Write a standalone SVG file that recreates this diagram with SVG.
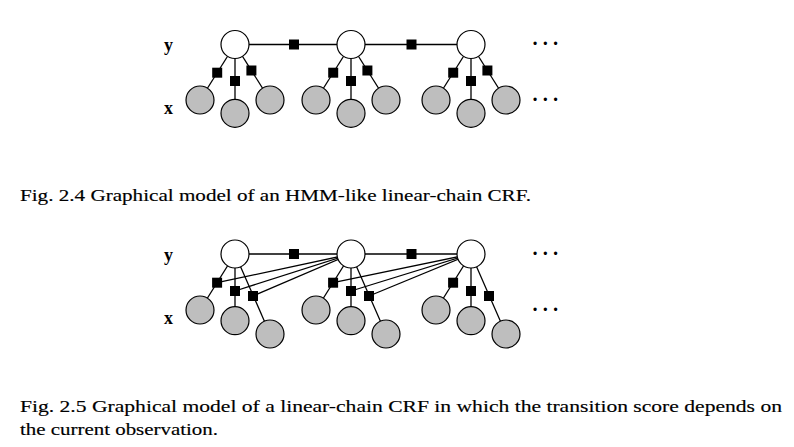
<svg xmlns="http://www.w3.org/2000/svg" width="794" height="447" viewBox="0 0 794 447">
<defs>
<style>
.ln{stroke:#000;stroke-width:1.3;fill:none}
.yn{fill:#fff;stroke:#000;stroke-width:1.2}
.xn{fill:#bebebe;stroke:#000;stroke-width:1.2}
.fac{fill:#000}
.lab{font-family:"Liberation Serif",serif;font-weight:bold;font-size:18px;fill:#000}
.dots{font-family:"Liberation Serif",serif;font-weight:bold;font-size:20px;fill:#000}
.cap{font-family:"Liberation Serif",serif;font-size:16px;fill:#000;stroke:#000;stroke-width:0.15}
</style>
<rect id="f" width="10" height="10" x="-5" y="-5"/>
</defs>
<rect width="794" height="447" fill="#fff"/>

<!-- Figure 2.4 -->
<g id="connectors-top">
<line class="ln" x1="235" y1="44.5" x2="471" y2="44.5"/>
<line class="ln" x1="235" y1="44.5" x2="200" y2="100"/>
<line class="ln" x1="235" y1="44.5" x2="235" y2="113.3"/>
<line class="ln" x1="235" y1="44.5" x2="270" y2="100"/>
<line class="ln" x1="351" y1="44.5" x2="316" y2="100"/>
<line class="ln" x1="351" y1="44.5" x2="351" y2="113.3"/>
<line class="ln" x1="351" y1="44.5" x2="386" y2="100"/>
<line class="ln" x1="471" y1="44.5" x2="436" y2="100"/>
<line class="ln" x1="471" y1="44.5" x2="471" y2="113.3"/>
<line class="ln" x1="471" y1="44.5" x2="506" y2="100"/>
</g>
<g id="factors-top" class="fac">
<use href="#f" x="294" y="44.5"/>
<use href="#f" x="411.5" y="44.5"/>
<use href="#f" x="217.2" y="72.7"/>
<use href="#f" x="235" y="81"/>
<use href="#f" x="251.4" y="70.5"/>
<use href="#f" x="333.2" y="72.7"/>
<use href="#f" x="351" y="81"/>
<use href="#f" x="367.4" y="70.5"/>
<use href="#f" x="453.2" y="72.7"/>
<use href="#f" x="471" y="81"/>
<use href="#f" x="487.4" y="70.5"/>
</g>
<g id="y-top">
<circle class="yn" cx="235" cy="44.5" r="14"/>
<circle class="yn" cx="351" cy="44.5" r="14"/>
<circle class="yn" cx="471" cy="44.5" r="14"/>
</g>
<g id="x-top">
<circle class="xn" cx="200" cy="100" r="14"/>
<circle class="xn" cx="235" cy="113.3" r="14"/>
<circle class="xn" cx="270" cy="100" r="14"/>
<circle class="xn" cx="316" cy="100" r="14"/>
<circle class="xn" cx="351" cy="113.3" r="14"/>
<circle class="xn" cx="386" cy="100" r="14"/>
<circle class="xn" cx="436" cy="100" r="14"/>
<circle class="xn" cx="471" cy="113.3" r="14"/>
<circle class="xn" cx="506" cy="100" r="14"/>
</g>
<g id="labels-top">
<text class="lab" x="164" y="51">y</text>
<text class="lab" x="164" y="113.5">x</text>
<text class="dots" x="531.7 541.9 552.2" y="50">···</text>
<text class="dots" x="531.7 541.9 552.2" y="105.7">···</text>
</g>
<text id="cap24" class="cap" x="20" y="200.5" textLength="511" lengthAdjust="spacingAndGlyphs">Fig. 2.4  Graphical model of an HMM-like linear-chain CRF.</text>

<!-- Figure 2.5 -->
<g id="connectors-bottom">
<line class="ln" x1="235" y1="254" x2="471" y2="254"/>
<line class="ln" x1="235" y1="254" x2="200" y2="310"/>
<line class="ln" x1="235" y1="254" x2="235" y2="320.7"/>
<line class="ln" x1="235" y1="254" x2="270" y2="334"/>
<line class="ln" x1="351" y1="254" x2="316" y2="310"/>
<line class="ln" x1="351" y1="254" x2="351" y2="320.7"/>
<line class="ln" x1="351" y1="254" x2="386" y2="334"/>
<line class="ln" x1="471" y1="254" x2="436" y2="310"/>
<line class="ln" x1="471" y1="254" x2="471" y2="320.7"/>
<line class="ln" x1="471" y1="254" x2="506" y2="334"/>
<line class="ln" x1="217.1" y1="282.7" x2="351" y2="254"/>
<line class="ln" x1="235" y1="291" x2="351" y2="254"/>
<line class="ln" x1="253" y1="296" x2="351" y2="254"/>
<line class="ln" x1="333.1" y1="282.7" x2="471" y2="254"/>
<line class="ln" x1="351" y1="291" x2="471" y2="254"/>
<line class="ln" x1="369" y1="296" x2="471" y2="254"/>
</g>
<g id="factors-bottom" class="fac">
<use href="#f" x="294" y="254"/>
<use href="#f" x="411.5" y="254"/>
<use href="#f" x="217.1" y="282.7"/>
<use href="#f" x="235" y="291"/>
<use href="#f" x="253" y="296"/>
<use href="#f" x="333.1" y="282.7"/>
<use href="#f" x="351" y="291"/>
<use href="#f" x="369" y="296"/>
<use href="#f" x="453.1" y="282.7"/>
<use href="#f" x="471" y="291"/>
<use href="#f" x="489" y="296"/>
</g>
<g id="y-bottom">
<circle class="yn" cx="235" cy="254" r="14"/>
<circle class="yn" cx="351" cy="254" r="14"/>
<circle class="yn" cx="471" cy="254" r="14"/>
</g>
<g id="x-bottom">
<circle class="xn" cx="200" cy="310" r="14"/>
<circle class="xn" cx="235" cy="320.7" r="14"/>
<circle class="xn" cx="270" cy="334" r="14"/>
<circle class="xn" cx="316" cy="310" r="14"/>
<circle class="xn" cx="351" cy="320.7" r="14"/>
<circle class="xn" cx="386" cy="334" r="14"/>
<circle class="xn" cx="436" cy="310" r="14"/>
<circle class="xn" cx="471" cy="320.7" r="14"/>
<circle class="xn" cx="506" cy="334" r="14"/>
</g>
<g id="labels-bottom">
<text class="lab" x="164" y="261">y</text>
<text class="lab" x="164" y="323.5">x</text>
<text class="dots" x="531.7 541.9 552.2" y="259.5">···</text>
<text class="dots" x="531.7 541.9 552.2" y="315.5">···</text>
</g>
<text id="cap25a" class="cap" x="20" y="411.7" textLength="762" lengthAdjust="spacingAndGlyphs">Fig. 2.5  Graphical model of a linear-chain CRF in which the transition score depends on</text>
<text id="cap25b" class="cap" x="20" y="434.5" textLength="198" lengthAdjust="spacingAndGlyphs">the current observation.</text>
</svg>
